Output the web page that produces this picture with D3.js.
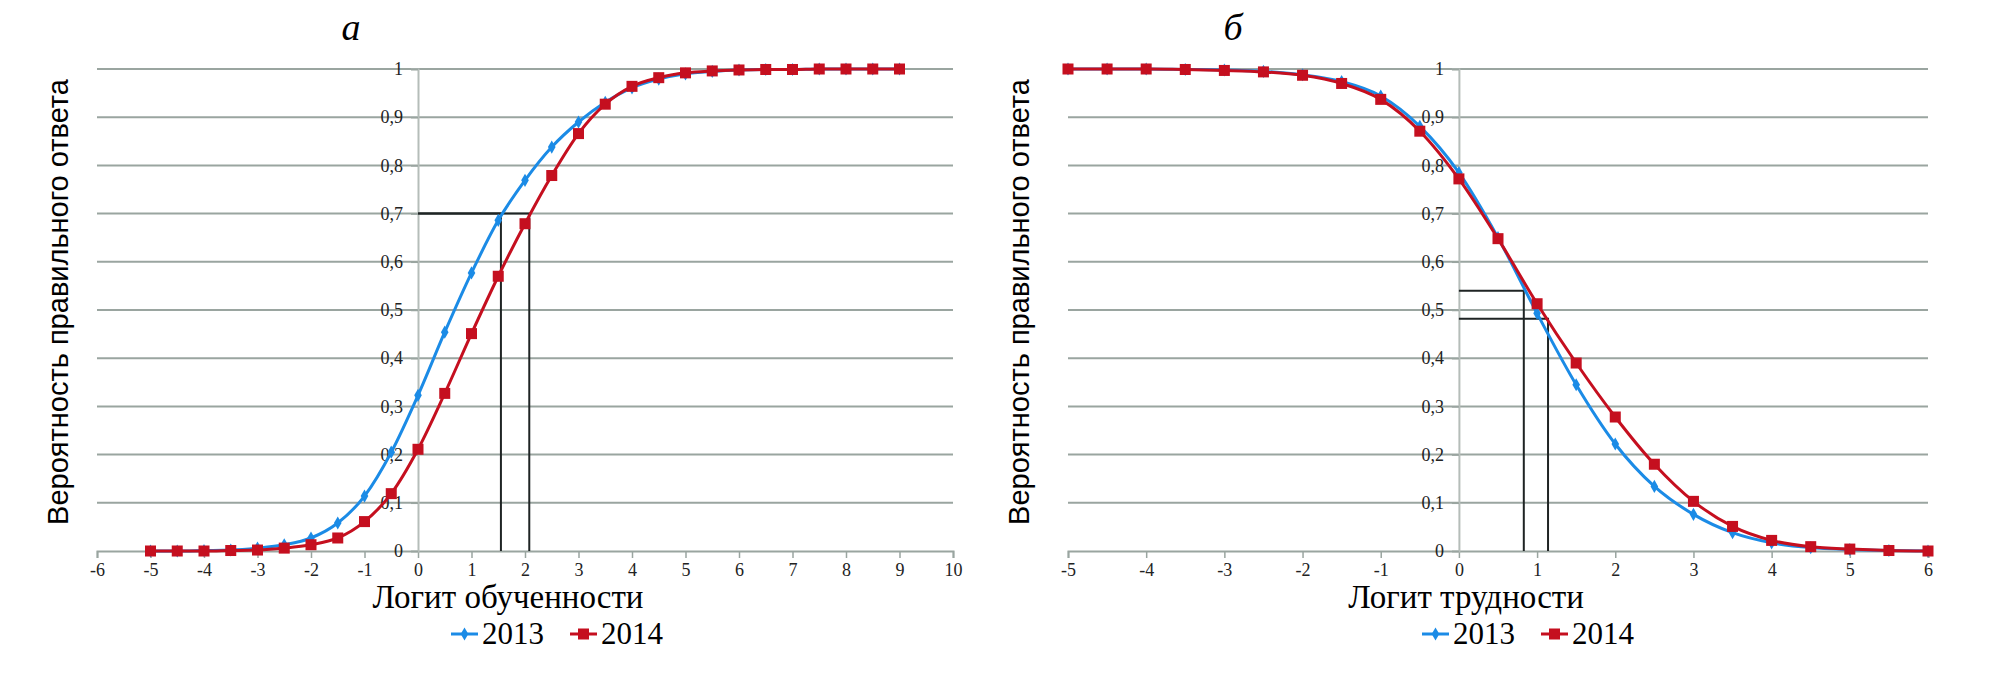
<!DOCTYPE html>
<html>
<head>
<meta charset="utf-8">
<script src="https://cdnjs.cloudflare.com/ajax/libs/d3/7.8.5/d3.min.js"></script>
<style>
  body { margin: 0; background: #fff; }
</style>
</head>
<body>
<script>
// --- data: panel а (logit of ability) ---
let abilityX = [-5, -4.5, -4, -3.5, -3, -2.5, -2, -1.5, -1, -0.5, 0, 0.5, 1, 1.5, 2, 2.5,
                3, 3.5, 4, 4.5, 5, 5.5, 6, 6.5, 7, 7.5, 8, 8.5, 9];
let ability2013 = [0, 0, 0.001, 0.002, 0.006, 0.013, 0.027, 0.058, 0.114, 0.205, 0.323, 0.454,
                   0.577, 0.686, 0.769, 0.838, 0.890, 0.931, 0.961, 0.979, 0.990, 0.995,
                   0.998, 0.999, 0.999, 1, 1, 1, 1];
let ability2014 = [0, 0, 0, 0.001, 0.002, 0.006, 0.013, 0.027, 0.061, 0.119, 0.211, 0.327,
                   0.451, 0.570, 0.679, 0.779, 0.866, 0.927, 0.964, 0.982, 0.992, 0.996,
                   0.998, 0.999, 0.999, 1, 1, 1, 1];
let abilityTicks = [-6, -5, -4, -3, -2, -1, 0, 1, 2, 3, 4, 5, 6, 7, 8, 9, 10];
let abilityGuides = [{ x: 1.55, y: 0.7 }, { x: 2.08, y: 0.7 }];

// --- data: panel б (logit of difficulty) ---
let difficultyX = [-5, -4.5, -4, -3.5, -3, -2.5, -2, -1.5, -1, -0.5, 0, 0.5, 1, 1.5, 2, 2.5,
                   3, 3.5, 4, 4.5, 5, 5.5, 6];
let difficulty2013 = [1, 1, 1, 0.999, 0.998, 0.995, 0.988, 0.974, 0.944, 0.881, 0.785, 0.650,
                      0.493, 0.345, 0.222, 0.134, 0.076, 0.038, 0.017, 0.007, 0.003, 0.001, 0];
let difficulty2014 = [1, 1, 1, 0.999, 0.997, 0.994, 0.987, 0.970, 0.937, 0.871, 0.772, 0.648,
                      0.513, 0.390, 0.278, 0.180, 0.103, 0.051, 0.022, 0.009, 0.004, 0.001, 0];
let difficultyTicks = [-5, -4, -3, -2, -1, 0, 1, 2, 3, 4, 5, 6];
let difficultyGuides = [{ x: 0.83, y: 0.54 }, { x: 1.14, y: 0.482 }];

let probTicks = [0, 0.1, 0.2, 0.3, 0.4, 0.5, 0.6, 0.7, 0.8, 0.9, 1];
let seriesNames = ["2013", "2014"];

let colorBlue = "#1b8be6";
let colorRed = "#c50f1f";

let svg = d3.select("body").append("svg")
    .attr("width", 1989)
    .attr("height", 682)
    .style("background", "#fff");

function probFormat(d) {
    if (d === 0 || d === 1) return String(d);
    return d.toFixed(1).replace(".", ",");
}

function drawPanel(opt) {
    let x = d3.scaleLinear().domain(opt.domain).range(opt.range);
    let y = d3.scaleLinear().domain([0, 1]).range([551, 69]);
    let g = svg.append("g");

    // horizontal gridlines
    g.selectAll(".grid")
        .data(probTicks.slice(1))
        .enter().append("line")
        .attr("x1", x(opt.domain[0]))
        .attr("x2", x(opt.domain[1]))
        .attr("y1", d => y(d))
        .attr("y2", d => y(d))
        .attr("stroke", "#9aa5a0")
        .attr("stroke-width", 2);

    // x axis (hyphen minus like the original, not the unicode minus)
    let xAxis = g.append("g")
        .attr("transform", `translate(0, ${y(0)})`)
        .call(d3.axisBottom(x).tickValues(opt.ticks).tickSize(7).tickPadding(5)
            .tickFormat(d => String(d)));
    xAxis.select(".domain").attr("stroke", "#9aa5a0").attr("stroke-width", 2);
    xAxis.selectAll(".tick line").attr("stroke", "#9aa5a0").attr("stroke-width", 1.5);

    // y axis at x = 0
    let yAxis = g.append("g")
        .attr("transform", `translate(${x(0)}, 0)`)
        .call(d3.axisLeft(y).tickValues(probTicks).tickSize(7).tickPadding(8)
            .tickFormat(probFormat));
    yAxis.select(".domain").attr("stroke", "#b5bdb9").attr("stroke-width", 2);
    yAxis.selectAll(".tick line").attr("stroke", "#9aa5a0").attr("stroke-width", 1.5);

    g.selectAll(".tick text")
        .attr("font-family", null).attr("font-size", null)
        .style("font-family", "Liberation Serif, serif")
        .style("font-size", "18px")
        .style("fill", "#222");

    // guide lines
    opt.guides.forEach(function (p) {
        g.append("path")
            .attr("d", `M${x(0)},${y(p.y)}H${x(p.x)}V${y(0)}`)
            .attr("fill", "none")
            .attr("stroke", "#1f2424")
            .attr("stroke-width", 2);
    });

    // series
    let line = d3.line()
        .x(d => x(d[0]))
        .y(d => y(d[1]))
        .curve(d3.curveMonotoneX);

    let blue = d3.zip(opt.xs, opt.s2013);
    let red = d3.zip(opt.xs, opt.s2014);

    g.append("path").datum(blue)
        .attr("d", line).attr("fill", "none")
        .attr("stroke", colorBlue).attr("stroke-width", 3);
    g.selectAll(".m13").data(blue).enter().append("path")
        .attr("transform", d => `translate(${x(d[0])},${y(d[1])})`)
        .attr("d", d3.symbol(d3.symbolDiamond, 50))
        .attr("fill", colorBlue);

    g.append("path").datum(red)
        .attr("d", line).attr("fill", "none")
        .attr("stroke", colorRed).attr("stroke-width", 3);
    g.selectAll(".m14").data(red).enter().append("rect")
        .attr("x", d => x(d[0]) - 5.5)
        .attr("y", d => y(d[1]) - 5.5)
        .attr("width", 11).attr("height", 11)
        .attr("fill", colorRed);

    // panel letter
    svg.append("text")
        .attr("x", opt.titleX).attr("y", 40)
        .attr("text-anchor", "middle")
        .style("font-family", "Liberation Serif, serif")
        .style("font-style", "italic")
        .style("font-size", "38px")
        .text(opt.title);

    // y title
    svg.append("text")
        .attr("transform", `translate(${opt.yLabelX}, 302) rotate(-90)`)
        .attr("text-anchor", "middle")
        .attr("dy", "0.35em")
        .style("font-family", "Liberation Sans, Arial, sans-serif")
        .style("font-size", "29px")
        .text("Вероятность правильного ответа");

    // x title
    svg.append("text")
        .attr("x", opt.xLabelX).attr("y", 608)
        .attr("text-anchor", "middle")
        .style("font-family", "Liberation Serif, serif")
        .style("font-size", "33px")
        .text(opt.xLabel);

    // legend
    let lg = svg.append("g").attr("transform", `translate(${opt.legendX}, 634)`);
    seriesNames.forEach(function (name, i) {
        let item = lg.append("g").attr("transform", `translate(${i * 119}, 0)`);
        let c = i === 0 ? colorBlue : colorRed;
        item.append("line").attr("x1", 0).attr("x2", 27)
            .attr("stroke", c).attr("stroke-width", 3);
        if (i === 0) {
            item.append("path").attr("transform", "translate(13.5,0)")
                .attr("d", d3.symbol(d3.symbolDiamond, 50)).attr("fill", c);
        } else {
            item.append("rect").attr("x", 8).attr("y", -5.5)
                .attr("width", 11).attr("height", 11).attr("fill", c);
        }
        item.append("text").attr("x", 31).attr("y", 10)
            .style("font-family", "Liberation Serif, serif")
            .style("font-size", "31px")
            .text(name);
    });
}

drawPanel({
    domain: [-6, 10], range: [97, 953], ticks: abilityTicks,
    xs: abilityX, s2013: ability2013, s2014: ability2014, guides: abilityGuides,
    title: "а", titleX: 351, yLabelX: 58,
    xLabel: "Логит обученности", xLabelX: 508, legendX: 451
});

drawPanel({
    domain: [-5, 6], range: [1068, 1928], ticks: difficultyTicks,
    xs: difficultyX, s2013: difficulty2013, s2014: difficulty2014, guides: difficultyGuides,
    title: "б", titleX: 1233, yLabelX: 1019,
    xLabel: "Логит трудности", xLabelX: 1466, legendX: 1422
});
</script>
</body>
</html>
